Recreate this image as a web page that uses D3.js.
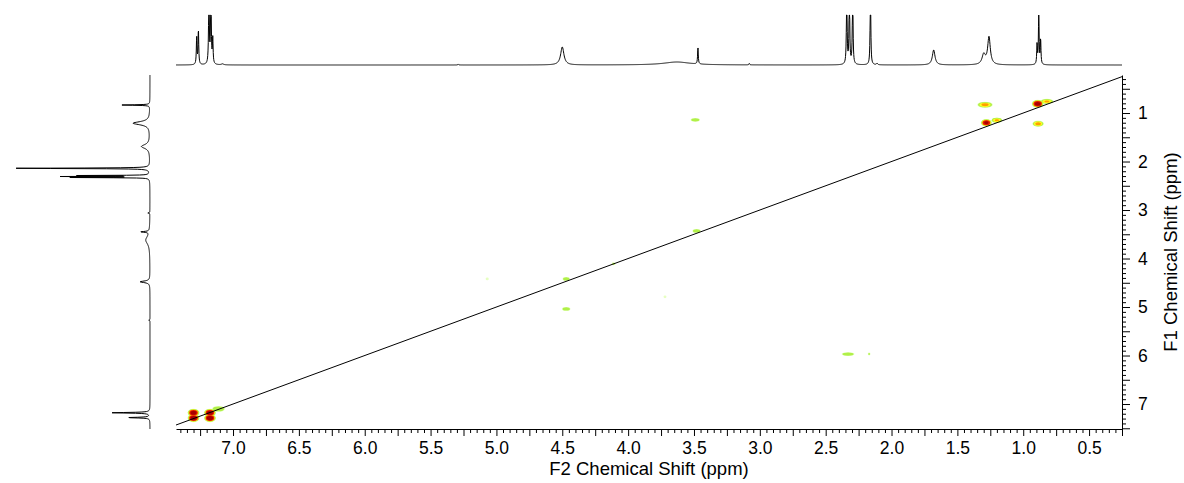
<!DOCTYPE html>
<html>
<head>
<meta charset="utf-8">
<script src="https://cdn.jsdelivr.net/npm/d3@7"></script>
<style>
body { margin: 0; background: #fff; }
text { font-family: "Liberation Sans", Arial, sans-serif; fill: #000; }
</style>
</head>
<body>
<script>
//tick labels
var f2Labels = [7.0, 6.5, 6.0, 5.5, 5.0, 4.5, 4.0, 3.5, 3.0, 2.5, 2.0, 1.5, 1.0, 0.5];
var f1Labels = [1, 2, 3, 4, 5, 6, 7];

//1D proton spectrum on top (ppm, relative height, half width in ppm)
var topPpm    = [7.276, 7.263, 7.183, 7.168, 7.154, 7.08, 5.29, 4.50, 3.63, 3.47, 3.08, 2.34, 2.32, 2.295, 2.16, 2.11, 1.68, 1.30, 1.26, 0.895, 0.882, 0.868];
var topHeight = [0.55, 0.7, 1.6, 1.6, 0.5, 0.02, 0.02, 0.36, 0.06, 0.33, 0.03, 1.6, 1.6, 1.6, 1.6, 0.03, 0.3, 0.2, 0.55, 0.4, 1.05, 0.5];
var topWidth  = [0.003, 0.003, 0.003, 0.003, 0.003, 0.01, 0.003, 0.015, 0.12, 0.003, 0.003, 0.003, 0.003, 0.003, 0.003, 0.005, 0.012, 0.015, 0.012, 0.003, 0.003, 0.003];

//projection on the left side
var sidePpm    = [0.835, 1.21, 1.69, 2.14, 2.29, 2.31, 2.33, 3.06, 3.45, 3.62, 4.48, 5.27, 7.18, 7.28];
var sideHeight = [0.2, 0.12, 0.06, 1.0, 0.6, 0.65, 0.55, 0.015, 0.06, 0.03, 0.07, 0.01, 0.27, 0.16];
var sideWidth  = [0.006, 0.04, 0.05, 0.006, 0.004, 0.004, 0.004, 0.006, 0.01, 0.1, 0.02, 0.006, 0.008, 0.008];

//cross peaks
var crossF2  = [7.30, 7.30, 7.175, 7.175, 7.11, 4.47, 4.11, 5.07, 4.47, 3.72, 3.48, 3.49, 2.33, 2.17, 1.29, 1.28, 1.20, 0.89, 0.82, 0.887];
var crossF1  = [7.18, 7.29, 7.18, 7.29, 7.10, 4.42, 4.11, 4.42, 5.04, 4.79, 3.43, 1.14, 5.97, 5.97, 0.83, 1.20, 1.15, 0.81, 0.76, 1.22];
var crossInt = [2.6, 2.8, 2.6, 2.8, 0.3, 0.25, 0.12, 0.1, 0.3, 0.08, 0.3, 0.3, 0.35, 0.12, 0.8, 2.2, 0.75, 2.5, 0.75, 0.85];
var crossWx  = [0.032, 0.032, 0.032, 0.032, 0.042, 0.024, 0.015, 0.012, 0.027, 0.012, 0.027, 0.03, 0.04, 0.01, 0.045, 0.03, 0.032, 0.032, 0.038, 0.033];
var crossWy  = [0.058, 0.058, 0.058, 0.058, 0.05, 0.032, 0.03, 0.03, 0.032, 0.03, 0.032, 0.032, 0.032, 0.03, 0.048, 0.055, 0.042, 0.058, 0.04, 0.048];

//contour levels
var levels      = [0.04, 0.1, 0.4, 0.7, 1.0, 2.0];
var levelColors = ["#e6ffc2", "#b0f048", "#ffff22", "#ffa000", "#e82000", "#a80000"];

drawChart();

function drawChart(){

    var width = 1184, height = 483;
    var pLeft = 176, pRight = 1122, pTop = 75, pBottom = 429;

    var svg = d3.select("body").append("svg")
        .attr("width", width)
        .attr("height", height);

    var x = d3.scaleLinear().domain([7.433, 0.25]).range([pLeft, pRight]);
    var y = d3.scaleLinear().domain([0.216, 7.515]).range([pTop, pBottom]);

    //lorentzian sum
    function spectrum(p, ppm, h, w){
        var s = 0;
        for (var i = 0; i < ppm.length; i++){
            var d = (p - ppm[i]) / w[i];
            s += h[i] / (1 + d * d);
        }
        return s;
    }

    //top spectrum
    var topY = d3.scaleLinear().domain([0, 1]).range([65, 15]).clamp(true);
    var topPts = d3.range(pLeft, pRight + 0.01, 0.25).map(function(px){
        var p = x.invert(px);
        return [px, topY(spectrum(p, topPpm, topHeight, topWidth))];
    });
    svg.append("path")
        .attr("d", d3.line()(topPts))
        .attr("fill", "none")
        .attr("stroke", "#000")
        .attr("stroke-width", 1);

    //side spectrum
    var sideX = d3.scaleLinear().domain([0, 1]).range([150, 10]).clamp(true);
    var sidePts = d3.range(pTop, pBottom + 0.01, 0.25).map(function(py){
        var p = y.invert(py);
        return [sideX(spectrum(p, sidePpm, sideHeight, sideWidth)), py];
    });
    svg.append("path")
        .attr("d", d3.line()(sidePts))
        .attr("fill", "none")
        .attr("stroke", "#000")
        .attr("stroke-width", 1);

    //clip for 2d area
    svg.append("clipPath").attr("id", "plotClip")
        .append("rect")
        .attr("x", pLeft).attr("y", pTop)
        .attr("width", pRight - pLeft).attr("height", pBottom - pTop);

    var plot = svg.append("g").attr("clip-path", "url(#plotClip)");

    //cross peaks as nested contour ellipses (flat topped peak shape)
    var blobs = [];
    levels.forEach(function(t, li){
        crossF2.forEach(function(f2, i){
            if (crossInt[i] > t){
                var r = Math.pow(Math.log(crossInt[i] / t), 0.25);
                blobs.push({
                    cx: x(f2),
                    cy: y(crossF1[i]),
                    rx: Math.abs(x(f2 + crossWx[i]) - x(f2)) * r,
                    ry: Math.abs(y(crossF1[i] + crossWy[i]) - y(crossF1[i])) * r,
                    color: levelColors[li]
                });
            }
        });
    });

    plot.selectAll(".blob")
        .data(blobs)
        .enter()
        .append("ellipse")
        .attr("class", "blob")
        .attr("cx", function(d){ return d.cx; })
        .attr("cy", function(d){ return d.cy; })
        .attr("rx", function(d){ return d.rx; })
        .attr("ry", function(d){ return d.ry; })
        .attr("fill", function(d){ return d.color; });

    //diagonal
    plot.append("line")
        .attr("x1", x(7.433)).attr("y1", y(7.433))
        .attr("x2", x(0.25)).attr("y2", y(0.25))
        .attr("stroke", "#000")
        .attr("stroke-width", 1);

    //bottom axis
    function inX(v){ return v <= 7.433 && v >= 0.25; }
    var minorX = d3.range(5, 149).map(function(i){ return +(i * 0.05).toFixed(2); })
        .filter(function(v){ return inX(v) && Math.round(v * 100) % 25 !== 0; });
    var midX = d3.range(1, 30).map(function(i){ return i * 0.25; })
        .filter(function(v){ return inX(v) && Math.round(v * 100) % 50 !== 0; });

    var gx = svg.append("g").attr("transform", "translate(0," + pBottom + ")");
    gx.append("g").call(d3.axisBottom(x).tickValues(minorX).tickSize(4).tickSizeOuter(0).tickFormat(""));
    gx.append("g").call(d3.axisBottom(x).tickValues(midX).tickSize(7).tickSizeOuter(0).tickFormat(""))
        .select(".domain").remove();
    gx.append("g").call(d3.axisBottom(x).tickValues(f2Labels).tickSize(7).tickSizeOuter(0)
            .tickPadding(6).tickFormat(d3.format(".1f")))
        .select(".domain").remove();

    //right axis
    function inY(v){ return v >= 0.216 && v <= 7.515; }
    var minorY = d3.range(3, 76).map(function(i){ return +(i * 0.1).toFixed(1); })
        .filter(function(v){ return inY(v) && Math.round(v * 10) % 5 !== 0; });
    var majorY = d3.range(1, 16).map(function(i){ return i * 0.5; })
        .filter(function(v){ return inY(v) && v % 1 !== 0; });

    var gy = svg.append("g").attr("transform", "translate(" + pRight + ",0)");
    gy.append("g").call(d3.axisRight(y).tickValues(minorY).tickSize(4).tickSizeOuter(0).tickFormat(""));
    gy.append("g").call(d3.axisRight(y).tickValues(majorY).tickSize(8).tickSizeOuter(0).tickFormat(""))
        .select(".domain").remove();
    gy.append("g").call(d3.axisRight(y).tickValues(f1Labels).tickSize(8).tickSizeOuter(0)
            .tickPadding(8).tickFormat(d3.format("d")))
        .select(".domain").remove();

    svg.selectAll(".tick text")
        .attr("font-family", null)
        .attr("font-size", null)
        .style("font-family", "'Liberation Sans', Arial, sans-serif")
        .style("font-size", "17.5px")
        .attr("fill", "#000");
    svg.selectAll(".domain, .tick line").attr("stroke", "#000");

    //axis titles
    svg.append("text")
        .attr("x", (pLeft + pRight) / 2)
        .attr("y", 475)
        .attr("text-anchor", "middle")
        .style("font-size", "18.5px")
        .text("F2 Chemical Shift (ppm)");

    svg.append("text")
        .attr("transform", "translate(1177," + ((pTop + pBottom) / 2) + ") rotate(-90)")
        .attr("text-anchor", "middle")
        .style("font-size", "18.5px")
        .text("F1 Chemical Shift (ppm)");
}
</script>
</body>
</html>
